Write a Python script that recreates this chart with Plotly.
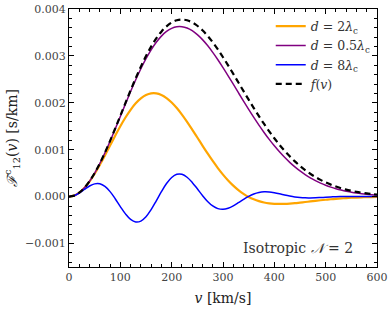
import plotly.graph_objects as go

# speed grid [km/s]
v = list(range(0, 601, 10))

# values in units of 1e-6 s/km
f_v = [0,21,84,187,328,503,708,939,1189,1453,1724,1998,2267,2527,2772,2997,3198,3372,3517,3630,3711,3759,3775,3759,3715,3643,3546,3427,3290,3137,2972,2797,2617,2433,2249,2067,1888,1715,1550,1392,1244,1105,977,859,752,654,566,488,418,357,303,256,215,180,149,124,102,84,68,56,45]
d_half = [0,21,84,187,328,502,706,935,1182,1443,1710,1977,2240,2491,2726,2940,3129,3291,3422,3521,3587,3621,3622,3594,3537,3453,3347,3220,3076,2919,2751,2576,2397,2216,2036,1860,1688,1524,1368,1220,1083,955,838,731,635,548,471,402,342,289,243,203,169,140,115,95,77,63,51,41,32]
d_two = [0,21,84,185,321,487,675,878,1089,1299,1501,1687,1851,1989,2094,2166,2202,2202,2168,2102,2008,1888,1749,1595,1430,1260,1089,921,760,609,470,345,235,140,60,-6,-57,-96,-125,-143,-153,-156,-154,-148,-139,-127,-115,-102,-89,-77,-66,-55,-46,-38,-30,-24,-19,-15,-11,-9,-6]
d_eight = [0,21,77,153,226,272,273,217,107,-44,-212,-368,-485,-540,-521,-429,-277,-90,106,280,409,476,476,413,304,167,25,-103,-199,-255,-270,-247,-197,-130,-59,6,56,88,102,99,83,61,36,13,-6,-19,-26,-27,-24,-19,-13,-7,-1,2,4,5,5,4,3,2,1]

def sc(a):
    return [x * 1e-6 for x in a]

FONT = "DejaVu Serif"

fig = go.Figure()
fig.add_trace(go.Scatter(x=v, y=sc(d_two), mode="lines", name="<i>d</i> = 2<i>λ</i><sub>c</sub>",
                         line=dict(color="#FFA500", width=2.2, shape="spline")))
fig.add_trace(go.Scatter(x=v, y=sc(d_half), mode="lines", name="<i>d</i> = 0.5<i>λ</i><sub>c</sub>",
                         line=dict(color="#800080", width=1.5, shape="spline")))
fig.add_trace(go.Scatter(x=v, y=sc(d_eight), mode="lines", name="<i>d</i> = 8<i>λ</i><sub>c</sub>",
                         line=dict(color="#0000FF", width=1.5, shape="spline")))
fig.add_trace(go.Scatter(x=v, y=sc(f_v), mode="lines", name="<i>f</i>(<i>v</i>)",
                         line=dict(color="black", width=2.2, dash="6px,4px", shape="spline")))

axis_common = dict(showline=True, linecolor="black", linewidth=1, mirror="allticks",
                   ticks="inside", ticklen=5, tickcolor="black", tickwidth=1,
                   showgrid=False, zeroline=False, automargin=False,
                   tickfont=dict(family=FONT, size=11, color="#444"))

fig.update_xaxes(range=[0, 600], tickmode="linear", tick0=0, dtick=100,
                 minor=dict(ticks="inside", tick0=0, dtick=20, ticklen=3, tickcolor="black", showgrid=False),
                 title=dict(text="<i>v</i> [km/s]", font=dict(family=FONT, size=14, color="#222"), standoff=9),
                 **axis_common)
fig.update_yaxes(range=[-0.0015, 0.004], tickmode="linear", tick0=0, dtick=0.001, tickformat=".3f",
                 minor=dict(ticks="inside", tick0=0, dtick=0.0002, ticklen=3, tickcolor="black", showgrid=False),
                 title=dict(text="<i>ℱ</i><sup>c</sup><sub>12</sub>(<i>v</i>) [s/km]",
                            font=dict(family=FONT, size=14, color="#222"), standoff=4),
                 **axis_common)

fig.add_annotation(x=0.928, y=0.075, xref="paper", yref="paper", xanchor="right", yanchor="middle",
                   text="Isotropic <i>𝒩</i> = 2", showarrow=False,
                   font=dict(family=FONT, size=14, color="#333"))

fig.update_layout(
    width=391, height=311,
    margin=dict(l=69, r=14, t=9, b=44, autoexpand=False),
    plot_bgcolor="white", paper_bgcolor="white",
    legend=dict(x=0.655, y=0.99, xanchor="left", yanchor="top", bgcolor="rgba(0,0,0,0)",
                font=dict(family=FONT, size=12.5, color="#333"), tracegroupgap=0),
    showlegend=True,
)

fig.write_html("out.html", config={"displayModeBar": False},
               post_script="document.body.style.margin='0px';")
